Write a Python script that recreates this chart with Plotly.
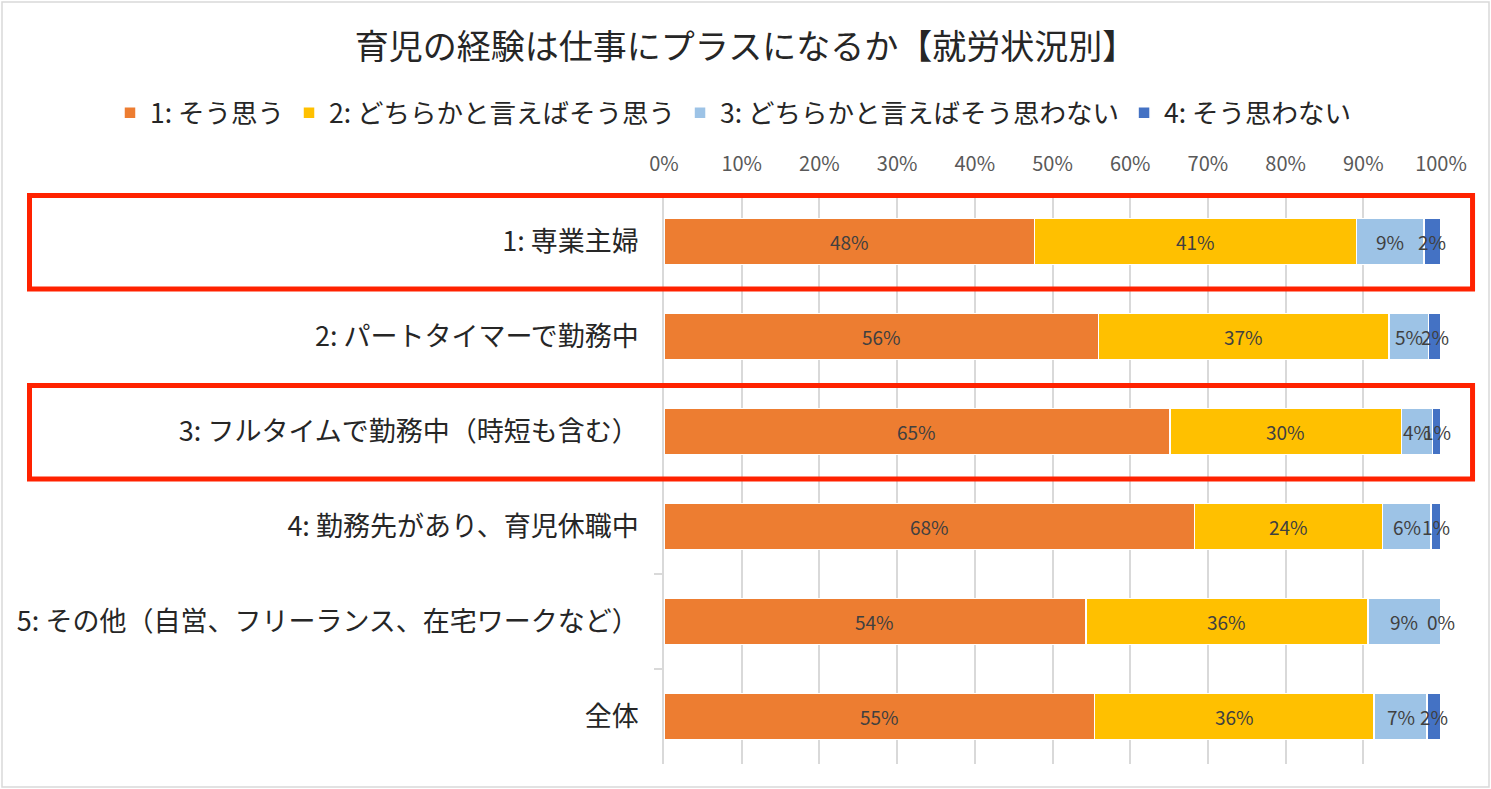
import plotly.graph_objects as go

categories = ["1: 専業主婦", "2: パートタイマーで勤務中", "3: フルタイムで勤務中（時短も含む）",
              "4: 勤務先があり、育児休職中", "5: その他（自営、フリーランス、在宅ワークなど）", "全体"]
series_names = ["1: そう思う", "2: どちらかと言えばそう思う", "3: どちらかと言えばそう思わない", "4: そう思わない"]
s1 = [47.7, 55.9, 65.1, 68.3, 54.3, 55.4]
s2 = [41.4, 37.4, 29.8, 24.2, 36.3, 36.0]
s3 = [8.7, 5.1, 4.0, 6.2, 9.4, 6.8]
s4 = [2.2, 1.6, 1.1, 1.3, 0.0, 1.8]
x_ticks = [0, 10, 20, 30, 40, 50, 60, 70, 80, 90, 100]
highlighted = ["1: 専業主婦", "3: フルタイムで勤務中（時短も含む）"]

colors = ["#ED7D31", "#FFC000", "#9DC3E6", "#4472C4"]
FONT = "Noto Sans CJK JP"

fig = go.Figure()
all_series = [s1, s2, s3, s4]
for name, vals, col in zip(series_names, all_series, colors):
    fig.add_trace(go.Bar(
        y=categories, x=vals, name=name, orientation="h",
        marker=dict(color=col, line=dict(color="white", width=1.5)),
        hoverinfo="x+y",
    ))

# data labels centred on each segment
annotations = []
for i, cat in enumerate(categories):
    start = 0.0
    for vals in all_series:
        v = vals[i]
        annotations.append(dict(
            x=start + v / 2, y=cat, xref="x", yref="y",
            text=f"{round(v)}%", showarrow=False,
            font=dict(family=FONT, size=19, color="#404040"),
        ))
        start += v

shapes = []
# highlight boxes
for cat in highlighted:
    idx = categories.index(cat)
    shapes.append(dict(
        type="rect", xref="paper", yref="y",
        x0=-0.8166, x1=1.0406, y0=idx - 0.485, y1=idx + 0.5,
        line=dict(color="#FF2200", width=5), fillcolor="rgba(0,0,0,0)", layer="above",
    ))
# chart border
shapes.append(dict(
    type="rect", xref="paper", yref="paper",
    x0=(2 - 664) / 777, x1=(1489 - 664) / 777,
    y0=(764 - 787) / 571, y1=(764 - 2) / 571,
    line=dict(color="#D9D9D9", width=1.5), fillcolor="rgba(0,0,0,0)",
))

fig.update_layout(
    width=1491, height=789,
    barmode="stack", bargap=0.515,
    paper_bgcolor="white", plot_bgcolor="white",
    margin=dict(l=664, r=50, t=193, b=25, autoexpand=False),
    font=dict(family=FONT, color="#404040"),
    title=dict(text="育児の経験は仕事にプラスになるか【就労状況別】",
               x=0.5, xanchor="center", y=1 - 47 / 789, yanchor="middle",
               font=dict(family=FONT, size=34, color="#262626")),
    legend=dict(orientation="h", x=-0.713, xanchor="left", y=(764 - 113) / 571, yanchor="middle",
                font=dict(family=FONT, size=26.5, color="#262626"), traceorder="normal",
                itemwidth=30, bgcolor="rgba(0,0,0,0)"),
    xaxis=dict(side="top", range=[0, 100], tickvals=x_ticks,
               ticktext=[f"{t}%" for t in x_ticks],
               showgrid=True, gridcolor="#D9D9D9", gridwidth=1.5,
               zeroline=False, showline=False, ticks="", ticklabelstandoff=17,
               tickfont=dict(family=FONT, size=20, color="#595959")),
    yaxis=dict(autorange="reversed", showline=True, linecolor="#D9D9D9", linewidth=1.5,
               ticks="outside", tickson="boundaries", ticklen=8, tickcolor="#D9D9D9",
               tickwidth=1.5, showgrid=False, automargin=False, ticklabelstandoff=18,
               tickfont=dict(family=FONT, size=27, color="#262626")),
    annotations=annotations, shapes=shapes,
)

fig.write_html("out.html", config={"displayModeBar": False},
               post_script="document.body.style.margin='0';")
